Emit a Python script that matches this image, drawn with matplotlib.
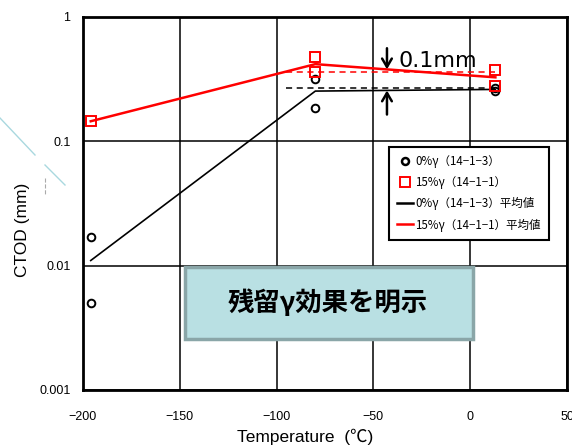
import matplotlib
matplotlib.use("Agg")

import numpy as np
import matplotlib.pyplot as plt
from matplotlib.lines import Line2D
from matplotlib.patches import Rectangle

plt.rcParams["font.family"] = ["Liberation Sans", "Noto Sans CJK JP", "DejaVu Sans"]

# test temperatures (deg C) and CTOD results (mm) per specimen group
temps = [-196, -80, 13]
ctod_0pct = [[0.017, 0.005], [0.32, 0.187], [0.27, 0.253]]
ctod_15pct = [[0.145], [0.475, 0.36], [0.377, 0.277]]

# reference levels used to mark the 0.1 mm gap
ref_range = [-95, 13]
ref_0pct = 0.27
ref_15pct = 0.36
gap_temp = -43
gap_arrow_top = 0.59
gap_arrow_bottom = 0.156

labels = ["0%γ（14−1−3）", "15%γ（14−1−1）",
          "0%γ（14−1−3）平均値", "15%γ（14−1−1）平均値"]
xticks = [-200, -150, -100, -50, 0, 50]
yticks = [0.001, 0.01, 0.1, 1]
ytick_labels = ["0.001", "0.01", "0.1", "1"]

mean_0 = [np.mean(v) for v in ctod_0pct]
mean_15 = [np.mean(v) for v in ctod_15pct]

fig = plt.figure(figsize=(5.72, 4.48), dpi=100)
ax = fig.add_axes([0.1451, 0.1295, 0.8462, 0.8326])

# individual specimens
for t, vals in zip(temps, ctod_0pct):
    ax.plot([t] * len(vals), vals, "o", ms=5.5, mfc="none", mec="black", mew=1.4, zorder=4)
for t, vals in zip(temps, ctod_15pct):
    ax.plot([t] * len(vals), vals, "s", ms=7, mfc="none", mec="red", mew=1.4, zorder=4)

# averages
ax.plot(temps, mean_0, color="black", lw=1.2, zorder=3)
ax.plot(temps, mean_15, color="red", lw=1.8, zorder=3)

# dashed reference levels and the gap arrows
ax.plot(ref_range, [ref_15pct] * 2, color="red", lw=1.1, ls=(0, (4, 3)), zorder=3)
ax.plot(ref_range, [ref_0pct] * 2, color="black", lw=1.1, ls=(0, (4, 3)), zorder=3)
arrow = dict(arrowstyle="->, head_length=0.6, head_width=0.35", color="black", lw=1.8)
ax.annotate("", xy=(gap_temp, ref_15pct), xytext=(gap_temp, gap_arrow_top), arrowprops=arrow, zorder=5)
ax.annotate("", xy=(gap_temp, ref_0pct), xytext=(gap_temp, gap_arrow_bottom), arrowprops=arrow, zorder=5)
ax.text(gap_temp + 6, 0.44, "0.1mm", fontsize=16, family="DejaVu Sans", va="center", ha="left", zorder=5)

ax.set_yscale("log")
ax.set_xlim(-200, 50)
ax.set_ylim(0.001, 1)
ax.set_xticks(xticks)
ax.set_xticklabels([str(t).replace("-", "−") for t in xticks])
ax.set_yticks(yticks)
ax.set_yticklabels(ytick_labels)
ax.yaxis.set_minor_locator(plt.NullLocator())
ax.tick_params(length=0, labelsize=9)
ax.tick_params(axis="x", pad=15)
ax.tick_params(axis="y", pad=9)
ax.grid(True, color="black", lw=1.1)
for s in ax.spines.values():
    s.set_linewidth(2)

ax.set_xlabel("Temperature  (℃)", fontsize=12.5)
ax.xaxis.set_label_coords(0.459, -0.105)
ax.set_ylabel("CTOD (mm)", fontsize=12.5)
ax.yaxis.set_label_coords(-0.11, 0.429)

handles = [
    Line2D([], [], marker="o", ls="none", ms=5, mfc="none", mec="black", mew=1.8),
    Line2D([], [], marker="s", ls="none", ms=6.5, mfc="none", mec="red", mew=1.4),
    Line2D([], [], color="black", lw=1.8),
    Line2D([], [], color="red", lw=1.8),
]
leg = ax.legend(handles, labels, loc="upper left", bbox_to_anchor=(0.632, 0.651),
                prop={"family": ["Noto Sans CJK JP", "DejaVu Sans"], "size": 8.3},
                frameon=True, fancybox=False, framealpha=1, edgecolor="black",
                handlelength=1.4, handletextpad=0.2, labelspacing=0.7,
                borderpad=0.7, borderaxespad=0)
leg.get_frame().set_linewidth(1.5)
leg.set_zorder(6)

# highlighted callout box
ax.add_patch(Rectangle((0.211, 0.137), 0.595, 0.193, transform=ax.transAxes,
                       facecolor="#b9e0e3", edgecolor="#8aa6a8", lw=2.5, zorder=7))
ax.text(0.506, 0.233, "残留γ効果を明示", transform=ax.transAxes, fontsize=19,
        fontweight="bold", family=["Noto Sans CJK JP"], ha="center", va="center", zorder=8)

# faint slide decoration on the left margin
fig.add_artist(Line2D([0 / 572, 35 / 572], [1 - 118 / 448, 1 - 155 / 448], color="#a9d8df", lw=1))
fig.add_artist(Line2D([45 / 572, 65 / 572], [1 - 165 / 448, 1 - 185 / 448], color="#a9d8df", lw=1))
fig.add_artist(Line2D([45 / 572, 45 / 572], [1 - 178 / 448, 1 - 195 / 448], color="#aaaaaa", lw=0.8, ls="--"))

fig.savefig("out.png", dpi=100)
